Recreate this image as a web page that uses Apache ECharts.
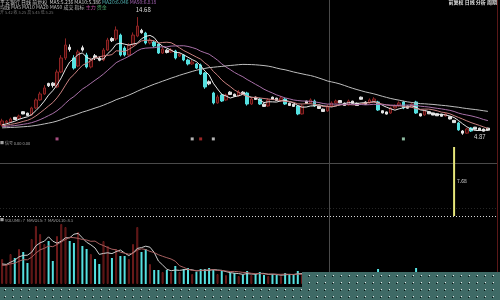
<!DOCTYPE html>
<html><head><meta charset="utf-8">
<script src="https://cdn.jsdelivr.net/npm/echarts@6/dist/echarts.min.js"></script>
<style>html,body{margin:0;padding:0;background:#000;}#c{width:500px;height:300px;}</style>
</head><body><div id="c"></div>
<script>
// ---- data ----
const opens = [5.68,5.88,5.95,6.32,6.22,6.79,6.67,6.52,7.10,7.77,
  8.27,9.15,9.17,8.85,10.10,11.27,12.17,11.27,10.60,12.12,
  11.52,10.52,11.45,11.25,11.10,11.93,12.89,12.85,13.18,12.10,
  11.52,12.35,13.10,13.57,13.35,12.52,12.60,12.43,11.68,11.92,
  11.77,11.85,11.43,11.52,11.10,10.77,10.77,10.68,10.02,9.29,
  8.35,7.52,8.18,7.77,8.42,8.25,8.10,8.42,8.35,7.43,
  8.00,7.85,7.42,7.27,8.00,7.92,7.68,7.85,7.50,7.42,
  7.27,6.60,7.67,7.52,7.68,7.25,7.00,6.85,7.27,7.52,
  7.72,7.50,7.35,7.67,7.50,8.00,7.59,7.52,7.68,7.60,
  6.87,6.77,6.68,7.10,7.27,7.60,7.27,7.18,7.60,6.62,
  6.52,6.79,6.69,6.62,6.59,6.43,6.37,6.07,5.85,5.18,
  5.00,5.43,5.50,5.42,5.34,5.42];
const closes = [6.02,6.00,6.18,6.14,6.43,6.60,6.48,7.10,7.77,8.27,
  8.77,8.95,8.98,10.10,11.27,12.35,11.98,10.43,11.77,11.93,
  10.52,11.10,11.28,11.08,11.93,12.77,12.71,13.60,11.52,11.52,
  12.35,13.18,13.93,13.38,12.52,12.77,12.27,11.68,12.02,11.73,
  11.93,11.27,11.60,11.10,10.77,10.93,10.43,9.93,8.85,9.11,
  7.52,8.02,7.68,8.18,8.23,8.08,8.43,8.23,7.43,7.85,
  7.81,7.43,7.23,7.77,7.81,7.73,7.93,7.43,7.31,7.23,
  6.60,7.27,7.48,7.77,7.27,7.06,6.81,7.27,7.52,7.68,
  7.53,7.31,7.68,7.48,7.31,7.83,7.41,7.77,7.85,6.93,
  6.69,6.59,7.10,7.27,7.52,7.10,7.08,7.43,6.68,6.43,
  6.85,6.61,6.51,6.45,6.41,6.60,6.18,5.88,5.27,5.00,
  5.35,5.18,5.33,5.25,5.17,5.25];
const lows = [5.55,5.80,5.85,6.10,6.15,6.58,6.45,6.45,7.00,7.70,
  8.20,8.85,8.80,8.75,10.00,11.10,11.80,10.30,10.50,11.80,
  10.40,10.40,11.10,11.00,11.00,11.85,12.60,12.70,11.40,11.40,
  11.45,12.25,13.00,13.30,12.40,12.40,12.15,11.60,11.60,11.65,
  11.70,11.15,11.35,11.00,10.65,10.70,10.35,9.85,8.70,9.00,
  7.40,7.45,7.60,7.70,8.20,8.05,8.05,8.20,7.30,7.35,
  7.80,7.35,7.20,7.20,7.80,7.70,7.60,7.35,7.30,7.20,
  6.50,6.55,7.45,7.45,7.20,7.05,6.80,6.80,7.20,7.45,
  7.50,7.30,7.30,7.45,7.30,7.80,7.40,7.45,7.60,6.85,
  6.65,6.55,6.60,7.05,7.20,7.00,7.05,7.10,6.60,6.40,
  6.45,6.60,6.50,6.45,6.40,6.38,6.15,5.85,5.20,4.87,
  4.95,5.10,5.30,5.25,5.15,5.25];
const highs = [6.20,6.10,6.30,6.35,6.55,6.82,6.70,7.20,7.90,8.45,
  9.00,9.20,9.25,10.30,11.50,12.90,12.40,11.50,11.95,12.30,
  11.70,11.30,11.60,11.40,12.10,12.95,13.00,13.90,13.30,12.25,
  12.50,13.40,14.68,13.70,13.45,12.95,12.70,12.50,12.20,12.00,
  12.10,11.95,11.75,11.60,11.20,11.10,10.85,10.80,10.10,9.40,
  8.45,8.20,8.30,8.30,8.50,8.30,8.60,8.50,8.45,8.00,
  8.05,7.95,7.50,7.90,8.05,7.95,8.10,7.95,7.55,7.45,
  7.35,7.40,7.70,7.90,7.80,7.30,7.05,7.40,7.65,7.80,
  7.75,7.55,7.80,7.70,7.55,8.05,7.65,7.90,8.00,7.70,
  6.90,6.80,7.20,7.40,7.65,7.70,7.30,7.55,7.70,6.65,
  6.95,6.80,6.70,6.65,6.60,6.70,6.40,6.10,5.95,5.25,
  5.45,5.50,5.52,5.45,5.38,5.45];
const volumes = [25,20,30,26,35,32,21,45,58,50,
  40,43,23,48,60,57,43,41,52,38,
  35,30,25,20,43,38,26,35,28,28,
  25,40,57,32,35,20,14,14,12,14,
  12,18,12,15,16,10,12,15,15,16,
  14,10,13,9,11,11,8,9,13,9,
  10,12,9,8,10,9,8,11,10,9,
  13,9,8,7,9,8,9,7,6,7,
  8,7,6,8,7,9,8,7,8,15,
  9,8,7,6,7,10,8,7,16,9,
  7,8,7,6,7,6,8,9,12,11,
  8,9,7,6,6,7];
// sessions before the visible window (seed the moving averages)
const prevCloses = [5.32,5.28,5.35,5.41,5.38,5.30,5.25,5.29,5.36,5.42,
  5.45,5.40,5.33,5.31,5.37,5.44,5.48,5.43,5.38,5.35,
  5.30,5.34,5.40,5.46,5.50,5.47,5.41,5.36,5.39,5.44,
  5.49,5.52,5.48,5.42,5.38,5.41,5.46,5.51,5.55,5.50,
  5.45,5.48,5.53,5.58,5.55,5.60,5.62,5.58,5.65];
const prevVolumes = [18,16,20,15,17,22,19,16,18];
const maPeriods = [5,10,20,50];
const volMaPeriods = [5,10];
const signalIndex = [13,45,47,50,95];
const indicatorIndex = [107];
const indicatorValue = [7.68];

// ---- styles ----
const maColors = ['#e8e8e8','#c98080','#a870a8','#bdbdbd'];
const volMaColors = ['#cfcfcf','#a86060'];
const signalColors = ['#d060a0','#e0e0e0','#c03030','#e0e0e0','#b0e8c8'];
const CYAN = '#55e0e0', WHITE = '#e4e4e4';

const N = closes.length;
const cats = [];
{ const d = new Date(Date.UTC(2015,3,1));
  while (cats.length < N) { const w = d.getUTCDay(); if (w && w !== 6) cats.push(d.toISOString().slice(0,10)); d.setUTCDate(d.getUTCDate()+1); } }

function movingAvg(prev, vals, n) {
  const all = prev.concat(vals), off = prev.length;
  return vals.map((_, i) => { let s = 0; for (let k = 0; k < n; k++) s += all[off+i-k]; return +(s/n).toFixed(3); });
}
const mas = maPeriods.map(p => movingAvg(prevCloses, closes, p));
const vmas = volMaPeriods.map(p => movingAvg(prevVolumes, volumes, p));

const kData = closes.map((c, i) => {
  const v = [opens[i], c, lows[i], highs[i]];
  const small = c < opens[i] && opens[i] - c < 0.25;
  return small ? {value: v, itemStyle: {color: WHITE, color0: WHITE, borderColor: WHITE, borderColor0: WHITE}} : v;
});
const volData = volumes.map((v, i) => ({
  value: v,
  itemStyle: closes[i] >= opens[i] ? {color: '#300606', borderColor: '#6e1c1c', borderWidth: 1} : {color: CYAN}
}));
const indData = closes.map(() => null);
indicatorIndex.forEach((ix, k) => { indData[ix] = indicatorValue[k]; });
const sigData = signalIndex.map((ix, k) => ({value: [cats[ix], 4.52], itemStyle: {color: signalColors[k]}}));

// teal dotted overlay pattern
const pc = document.createElement('canvas'); pc.width = 8; pc.height = 7;
const g = pc.getContext('2d');
g.fillStyle = '#3f6a66'; g.fillRect(0,0,8,7);
g.fillStyle = '#e8e8e8'; g.fillRect(5,2,1,1);
g.fillStyle = '#081412'; g.fillRect(4,3,1,1);

const last = N - 1;
const F = '"Noto Sans CJK SC", "Noto Sans", sans-serif';
const axX = gi => ({type:'category', gridIndex: gi, data: cats, boundaryGap: true, show: false});

const chart = echarts.init(document.getElementById('c'), null, {renderer: 'canvas'});
chart.setOption({
  backgroundColor: '#000',
  animation: false,
  grid: [
    {left: 0, right: 10, top: 10, height: 130},
    {left: 0, right: 10, top: 147, height: 69},
    {left: 0, right: 10, top: 224, height: 60}
  ],
  xAxis: [axX(0), axX(1), axX(2)],
  yAxis: [
    {gridIndex: 0, min: 4.43, max: 15.27, show: false, splitLine: {show: false}},
    {gridIndex: 1, min: 0, max: 7.68, show: false, splitLine: {show: false}},
    {gridIndex: 2, min: 0, max: 60, show: false, splitLine: {show: false}}
  ],
  series: [
    {type: 'candlestick', xAxisIndex: 0, yAxisIndex: 0, data: kData, barWidth: 3,
     itemStyle: {color: '#360707', color0: CYAN, borderColor: '#8e2424', borderColor0: CYAN, borderWidth: 1},
     markPoint: {symbol: 'circle', symbolSize: 1, itemStyle: {color: 'rgba(0,0,0,0)'},
       label: {show: true, color: '#dddddd', fontSize: 6, fontFamily: F},
       data: [
         {type: 'max', valueDim: 'highest', label: {position: 'top', offset: [6, 1]}},
         {type: 'min', valueDim: 'lowest', label: {position: 'right', offset: [6, 2]}}
       ]}
    },
    ...mas.map((m, k) => ({type: 'line', xAxisIndex: 0, yAxisIndex: 0, data: m, showSymbol: false,
      lineStyle: {width: 1, color: maColors[k]}, itemStyle: {color: maColors[k]}, z: 3})),
    {type: 'scatter', xAxisIndex: 0, yAxisIndex: 0, data: sigData, symbol: 'rect', symbolSize: 3, clip: false},
    {type: 'bar', xAxisIndex: 1, yAxisIndex: 1, data: indData, barWidth: 2,
     itemStyle: {color: '#e6e67a'},
     label: {show: true, position: 'right', distance: 2, color: '#dddddd', fontSize: 5, fontFamily: F}},
    {type: 'bar', xAxisIndex: 2, yAxisIndex: 2, data: volData, barWidth: 2},
    ...vmas.map((m, k) => ({type: 'line', xAxisIndex: 2, yAxisIndex: 2, data: m, showSymbol: false,
      lineStyle: {width: 1, color: volMaColors[k]}, z: 3}))
  ],
  graphic: [
    {type: 'line', shape: {x1: 329.5, y1: 0, x2: 329.5, y2: 300}, style: {stroke: '#4a4a4a', lineWidth: 1}, z: 1},
    {type: 'line', shape: {x1: 0, y1: 163.5, x2: 497, y2: 163.5}, style: {stroke: '#4a4a4a', lineWidth: 1}, z: 1},
    {type: 'line', shape: {x1: 0, y1: 208.5, x2: 497, y2: 208.5}, style: {stroke: '#262626', lineWidth: 1, lineDash: [1, 2]}, z: 1},
    {type: 'line', shape: {x1: 0, y1: 216.5, x2: 497, y2: 216.5}, style: {stroke: '#d8d8d8', lineWidth: 1, lineDash: [1, 2]}, z: 1},
    {type: 'line', shape: {x1: 497.5, y1: 0, x2: 497.5, y2: 300}, style: {stroke: '#5a1818', lineWidth: 1}, z: 1},
    {type: 'text', x: 0, y: 0, z: 5, style: {font: '5px ' + F, textVerticalAlign: 'top',
      text: '{w|平安银行 日线 前复权  MA5:' + mas[0][last] + ' MA10:' + mas[1][last] + ' }{t|MA20:' + mas[2][last] + '}{p| MA50:' + mas[3][last] + '}',
      rich: {w: {fill: '#cfcfcf', font: '5px ' + F}, t: {fill: '#4fb0b0', font: '5px ' + F}, p: {fill: '#a060b0', font: '5px ' + F}}}},
    {type: 'text', x: 0, y: 5, z: 5, style: {font: '5px ' + F, textVerticalAlign: 'top',
      text: '{w|均线 MA5 MA10 MA20 MA50 成交 指标 }{m|主力 }{g|资金}',
      rich: {w: {fill: '#bdbdbd', font: '5px ' + F}, m: {fill: '#c050a0', font: '5px ' + F}, g: {fill: '#50b070', font: '5px ' + F}}}},
    {type: 'text', x: 0, y: 10, z: 5, style: {text: '开 ' + opens[last] + ' 收 ' + closes[last] + ' 高 ' + highs[last] + ' 低 ' + lows[last], font: '4px ' + F, fill: '#707070', textVerticalAlign: 'top'}},
    {type: 'text', x: 497, y: 0, z: 5, style: {text: '前复权 日线 分析 周期', font: 'bold 5px ' + F, fill: '#e0e0e0', textAlign: 'right', textVerticalAlign: 'top'}},
    {type: 'text', x: 0, y: 141, z: 5, style: {text: '■ 信号 0.00 0.00', font: '4px ' + F, fill: '#a0a0a0', textVerticalAlign: 'top'}},
    {type: 'text', x: 0, y: 218, z: 5, style: {text: '■ VOLUME: ' + volumes[last] + '  MAVOL5: ' + vmas[0][last] + '  MAVOL10: ' + vmas[1][last], font: '4px ' + F, fill: '#a0a0a0', textVerticalAlign: 'top'}},
    {type: 'polygon', z: 100, shape: {points: [[0,287],[302,287],[302,272],[500,272],[500,300],[0,300]]},
     style: {fill: {image: pc, repeat: 'repeat'}}}
  ]
});
</script>
</body></html>
